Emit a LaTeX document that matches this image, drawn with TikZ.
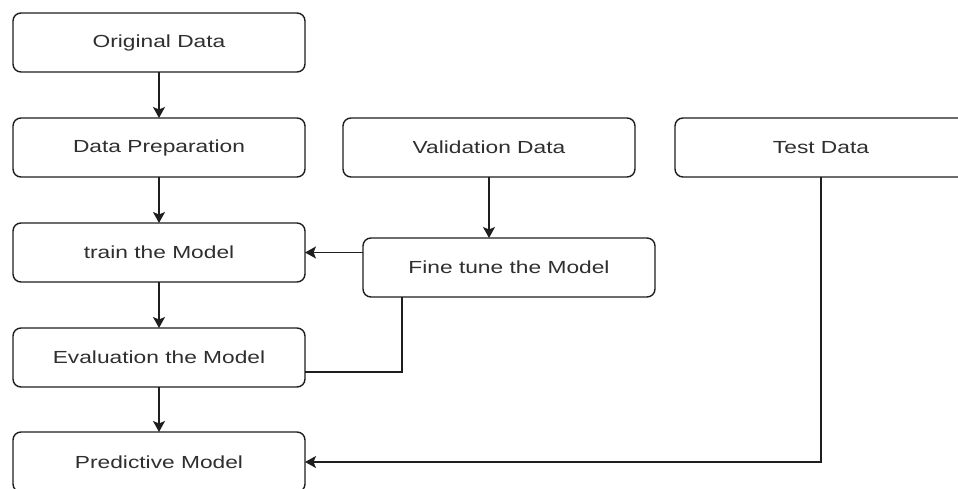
\documentclass[tikz,border=0pt]{standalone}
\usepackage{fontspec}
\setmainfont{Liberation Sans}[FakeStretch=1.3]
\usetikzlibrary{arrows.meta,calc}
\definecolor{txt}{HTML}{2F2F2F}
\definecolor{ln}{HTML}{1E1E1E}
\tikzset{
  box/.style={draw=ln, line width=1.4pt, rounded corners=8pt, fill=white,
    minimum width=292pt, minimum height=59pt, inner sep=0pt, outer sep=0pt,
    text=txt, font=\fontsize{17.5}{20}\selectfont},
  conn/.style={draw=ln, line width=1.4pt},
  arr/.style={conn, -{Stealth[length=11pt,width=12pt,inset=2.5pt]}}
}
\begin{document}
\begin{tikzpicture}[x=1pt,y=-1pt]
\useasboundingbox (0,0) rectangle (958,489);
\node[box] (orig) at (159,42.5) {Original Data};
\node[box] (prep) at (159,147.5) {Data Preparation};
\node[box] (val) at (489,147.5) {Validation Data};
\node[box] (test) at (821,147.5) {Test Data};
\node[box] (train) at (159,252.5) {train the Model};
\node[box] (ft) at (509,267.5) {Fine tune the Model};
\node[box] (eval) at (159,357.5) {Evaluation the Model};
\node[box, minimum height=60pt] (pred) at (159,462) {Predictive Model};
\draw[arr] (orig) -- (prep);
\draw[arr] (prep) -- (train);
\draw[arr] (train) -- (eval);
\draw[arr] (eval) -- (pred);
\draw[arr] (val.south) -- (val.south |- ft.north);
\draw[arr] (ft.west |- train.east) -- (train.east);
\draw[conn] ([xshift=-107pt]ft.south) |- ([yshift=-14.5pt]eval.east);
\draw[arr] (test.south) |- (pred.east);
\end{tikzpicture}
\end{document}
